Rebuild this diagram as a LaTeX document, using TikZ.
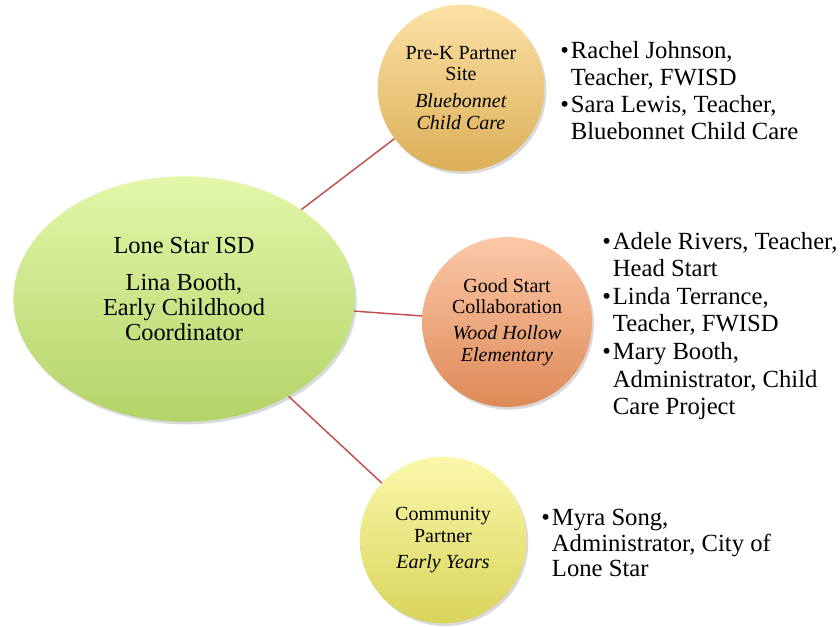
\documentclass[tikz,border=0pt]{standalone}
\usepackage{fontspec}
\setmainfont{Liberation Serif}
\usetikzlibrary{shapes.geometric, shadows, positioning}

\definecolor{hubtop}{HTML}{E3F7AA}
\definecolor{hubbot}{HTML}{B3D468}
\definecolor{prektop}{HTML}{FCE1A6}
\definecolor{prekbot}{HTML}{DCAF58}
\definecolor{goodtop}{HTML}{FCC8A8}
\definecolor{goodbot}{HTML}{DE8A58}
\definecolor{commtop}{HTML}{FBF8AC}
\definecolor{commbot}{HTML}{D9D45A}
\definecolor{linkred}{HTML}{C0504D}

\newcommand{\itembul}{\makebox[8pt][l]{\textbullet}}
\newcommand{\itemind}{\hspace*{8pt}}

\begin{document}
\begin{tikzpicture}[x=0.75pt, y=-0.75pt,
  hub/.style={ellipse, minimum width=256pt, minimum height=184pt, align=center,
    font=\fontsize{18.3}{18.75}\selectfont, top color=hubtop, bottom color=hubbot,
    drop shadow={opacity=0.3, shadow xshift=1.5pt, shadow yshift=-2pt}},
  site/.style={circle, minimum size=125pt, align=center,
    font=\fontsize{15}{16.2}\selectfont,
    drop shadow={opacity=0.3, shadow xshift=1.5pt, shadow yshift=-2pt}},
  link/.style={draw=linkred, line width=1.1pt},
  people/.style={anchor=north west, inner sep=0pt, align=left,
    font=\fontsize{18.5}{20.25}\selectfont}]

% Page size
\useasboundingbox (0,0) rectangle (840,627);

% Central node
\node[hub] (lsisd) at (184,299)
  {\raisebox{5pt}[\height][\depth]{\begin{tabular}{@{}c@{}}Lone Star ISD\\[9pt]Lina Booth,\\Early Childhood\\Coordinator\end{tabular}}};

% Partner sites
\node[site, top color=prektop, bottom color=prekbot] (prek) at (461,88)
  {Pre-K Partner\\Site\\[4pt]\textit{Bluebonnet}\\\textit{Child Care}};
\node[site, minimum size=127.5pt, top color=goodtop, bottom color=goodbot] (goodstart) at (507,322)
  {Good Start\\Collaboration\\[3pt]\textit{Wood Hollow}\\\textit{Elementary}};
\node[site, top color=commtop, bottom color=commbot] (community) at (443,540)
  {Community\\Partner\\[3pt]\textit{Early Years}};

% Links
\draw[link] (lsisd) -- (prek);
\draw[link] (lsisd) -- (goodstart);
\draw[link] (lsisd) -- (community);

% People at each site
\node[people] (prekppl) at (560,41)
  {\itembul Rachel Johnson,\\\itemind Teacher, FWISD\\\itembul Sara Lewis, Teacher,\\\itemind Bluebonnet Child Care};
\node[people, font=\fontsize{18.5}{20.65}\selectfont] (goodppl) at (602,232)
  {\itembul Adele Rivers, Teacher,\\\itemind Head Start\\\itembul Linda Terrance,\\\itemind Teacher, FWISD\\\itembul Mary Booth,\\\itemind Administrator, Child\\\itemind Care Project};
\node[people, font=\fontsize{18.5}{19.1}\selectfont] (commppl) at (541,509)
  {\itembul Myra Song,\\\itemind Administrator, City of\\\itemind Lone Star};

\end{tikzpicture}
\end{document}
